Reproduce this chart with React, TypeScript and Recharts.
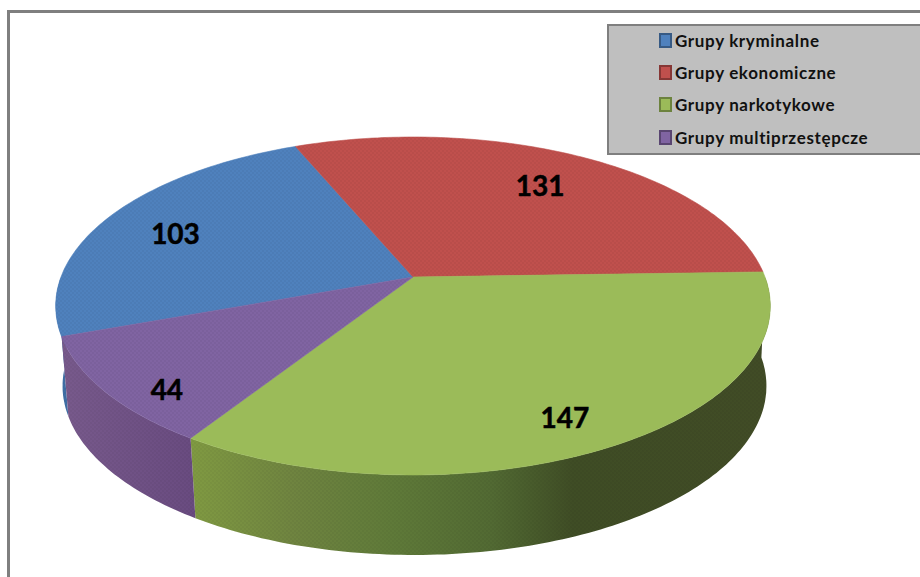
import React from "react";
import { PieChart, Pie, Legend } from "recharts";

const categories = ["Grupy kryminalne", "Grupy ekonomiczne", "Grupy narkotykowe", "Grupy multiprzestępcze"];
const counts = [103, 131, 147, 44];
const topColors = ["#4f81bd", "#c0504d", "#9bbb59", "#8064a2"];
const sideFills = ["#3f6fa6", "#8c3a38", "url(#sideGreen)", "url(#sidePurple)"];
const labelRadius = [0.76, 0.74, 0.835, 0.875];
const labelAngleShift = [2.1, 0, -2.75, 5.7];

const chartData = categories.map((name, i) => ({ name, value: counts[i], fill: topColors[i] }));

// the pie is tilted: unit disc -> screen with a bit of perspective
const TILT = -0.1716;
const RY = 164;
const DEPTH = 80;
const BOTTOM_SCALE = 0.985;
const BOTTOM_SHIFT = 1.5;

function project(cx: number, cy: number, rx: number, angle: number, r = 1) {
  const a = (angle * Math.PI) / 180;
  const u = r * Math.cos(a);
  const v = r * Math.sin(a);
  const w = 1 - TILT * v;
  return { x: cx + (rx * u) / w, y: cy - (RY * v) / w };
}

function rimAngles(start: number, end: number) {
  const steps = Math.max(2, Math.ceil(Math.abs(start - end)));
  const out = [];
  for (let i = 0; i <= steps; i++) out.push(start + ((end - start) * i) / steps);
  return out;
}

const toPath = (pts: { x: number; y: number }[]) =>
  pts.map((p, i) => `${i ? "L" : "M"}${p.x.toFixed(1)} ${p.y.toFixed(1)}`).join(" ") + " Z";

function Slice3D(props: any) {
  const { cx, cy, outerRadius, startAngle, endAngle, fill, index } = props;
  const angles = rimAngles(startAngle, endAngle);
  const top = angles.map((a) => project(cx, cy, outerRadius, a));
  // only the near half of the wall can be seen
  const wallTop = angles
    .filter((a) => Math.sin((a * Math.PI) / 180) <= 0)
    .map((a) => project(cx, cy, outerRadius, a));
  const wallBottom = wallTop
    .map((p) => ({ x: cx + (p.x - cx) * BOTTOM_SCALE + BOTTOM_SHIFT, y: p.y + DEPTH }))
    .reverse();
  const wall = wallTop.length > 1 ? toPath([...wallTop, ...wallBottom]) : null;
  const face = toPath([{ x: cx, y: cy }, ...top]);
  return (
    <g>
      {wall && <path d={wall} fill={sideFills[index]} />}
      {wall && <path d={wall} fill="url(#dither)" />}
      <path d={face} fill={fill} stroke={fill} strokeWidth={0.6} />
      {index !== 2 && <path d={face} fill="url(#dither)" />}
    </g>
  );
}

function ValueLabel(props: any) {
  const { cx, cy, outerRadius, midAngle, value, index } = props;
  const p = project(cx, cy, outerRadius, midAngle + labelAngleShift[index], labelRadius[index]);
  return (
    <text
      x={p.x}
      y={p.y}
      textAnchor="middle"
      dominantBaseline="central"
      fontFamily="Lato, sans-serif"
      fontWeight={700}
      fontSize={28}
      fill="#000"
      stroke="#000"
      strokeWidth={0.5}
    >
      {value}
    </text>
  );
}

function LegendBox() {
  return (
    <div
      style={{
        boxSizing: "border-box",
        width: 313,
        height: 131,
        background: "#bfbfbf",
        border: "2px solid #7f7f7f",
        borderRight: "none",
        paddingLeft: 50,
        fontFamily: "Lato, sans-serif",
        fontWeight: 700,
        fontSize: 17,
        letterSpacing: 0.65,
        color: "#111",
      }}
    >
      <div style={{ marginTop: -2 }}>
        {chartData.map((d) => (
          <div key={d.name} style={{ height: 32.3, display: "flex", alignItems: "center", whiteSpace: "nowrap" }}>
            <span
              style={{
                boxSizing: "border-box",
                width: 13,
                height: 15,
                marginRight: 3,
                background: d.fill,
                border: "2px solid rgba(0,0,0,0.3)",
              }}
            />
            {d.name}
          </div>
        ))}
      </div>
    </div>
  );
}

export default function App() {
  return (
    <div style={{ position: "absolute", left: 0, top: 0, width: 920, height: 577, background: "#fff", overflow: "hidden" }}>
      <div
        style={{
          position: "absolute",
          left: 7,
          top: 10,
          width: 913,
          height: 567,
          boxSizing: "border-box",
          borderTop: "3px solid #7f7f7f",
          borderLeft: "3px solid #7f7f7f",
        }}
      />
      <PieChart
        width={920}
        height={577}
        margin={{ top: 0, right: 0, bottom: 0, left: 0 }}
        style={{ position: "absolute", left: 0, top: 0 }}
      >
        <defs>
          <linearGradient id="sideGreen" gradientUnits="userSpaceOnUse" x1="190" y1="0" x2="770" y2="0">
            <stop offset="0" stopColor="#809a42" />
            <stop offset="0.18" stopColor="#6f8440" />
            <stop offset="0.35" stopColor="#5f7a39" />
            <stop offset="0.52" stopColor="#526a33" />
            <stop offset="0.66" stopColor="#3f4d25" />
            <stop offset="1" stopColor="#414c26" />
          </linearGradient>
          <linearGradient id="sidePurple" gradientUnits="userSpaceOnUse" x1="60" y1="0" x2="195" y2="0">
            <stop offset="0" stopColor="#785a8c" />
            <stop offset="1" stopColor="#694b80" />
          </linearGradient>
          <pattern id="dither" width="4" height="4" patternUnits="userSpaceOnUse">
            <rect x="0" y="0" width="2" height="2" fill="#000" opacity="0.035" />
            <rect x="2" y="2" width="2" height="2" fill="#000" opacity="0.035" />
          </pattern>
        </defs>
        <Legend
          layout="vertical"
          align="right"
          verticalAlign="top"
          wrapperStyle={{ position: "absolute", left: 607, top: 24, width: 313, height: 131 }}
          content={() => <LegendBox />}
        />
        <Pie
          data={chartData}
          dataKey="value"
          nameKey="name"
          cx={413}
          cy={277}
          outerRadius={352}
          startAngle={200}
          endAngle={-160}
          stroke="none"
          shape={Slice3D}
          label={ValueLabel}
          labelLine={false}
          isAnimationActive={false}
        />
      </PieChart>
    </div>
  );
}
